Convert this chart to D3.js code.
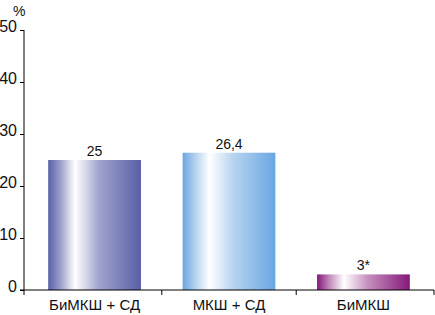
<!DOCTYPE html>
<html><head><meta charset="utf-8">
<script src="https://cdn.jsdelivr.net/npm/d3@7"></script>
<style>
body{margin:0;background:#fff;}
text{font-family:"Liberation Sans Narrow","Arial Narrow","Liberation Sans",Arial,sans-serif;fill:#111;}
</style></head>
<body><svg id="c" width="435" height="315"></svg>
<script>
const categories = ["БиМКШ + СД", "МКШ + СД", "БиМКШ"];
const values = [25, 26.4, 3];
const valueLabels = ["25", "26,4", "3*"];
const yTicks = [0, 10, 20, 30, 40, 50];
const colorsEdge = ["#5a5fa6", "#6aa6e2", "#85187a"];
const colorsMid = ["#a0a3cc", "#b6d3f0", "#c48fbd"];

const svg = d3.select("#c");
const x0 = 24, x1 = 434, yTop = 30, yBot = 290;
const x = d3.scaleBand().domain(categories).range([x0, x1]).paddingInner(0.31).paddingOuter(0.18);
const y = d3.scaleLinear().domain([0, 50]).range([yBot, yTop]);

const defs = svg.append("defs");
categories.forEach((c, i) => {
  const g = defs.append("linearGradient").attr("id", "g" + i).attr("x1", "0%").attr("x2", "100%");
  g.append("stop").attr("offset", "0%").attr("stop-color", colorsEdge[i]);
  g.append("stop").attr("offset", "14%").attr("stop-color", colorsMid[i]);
  g.append("stop").attr("offset", "29%").attr("stop-color", "#ffffff");
  g.append("stop").attr("offset", "55%").attr("stop-color", colorsMid[i]);
  g.append("stop").attr("offset", "100%").attr("stop-color", colorsEdge[i]);
});

// bars
svg.selectAll("rect.bar").data(values).enter().append("rect")
  .attr("class", "bar")
  .attr("x", (d, i) => x(categories[i]))
  .attr("width", x.bandwidth())
  .attr("y", d => y(d))
  .attr("height", d => y(0) - y(d))
  .attr("fill", (d, i) => `url(#g${i})`);

// value labels
svg.selectAll("text.val").data(values).enter().append("text")
  .attr("class", "val")
  .attr("x", (d, i) => x(categories[i]) + x.bandwidth() / 2)
  .attr("y", d => y(d) - 4)
  .attr("text-anchor", "middle")
  .attr("font-size", 14)
  .text((d, i) => valueLabels[i]);

// y axis
const yAxis = d3.axisLeft(y).tickValues(yTicks).tickSize(4).tickFormat(d3.format("d"));
const ya = svg.append("g").attr("transform", `translate(${x0},0)`).call(yAxis);
ya.select(".domain").attr("d", `M0,${yTop}V${yBot}`).attr("stroke", "#000");
ya.selectAll(".tick line").attr("stroke", "#000");
ya.selectAll(".tick text").attr("font-size", 16).attr("x", -7).attr("dy", "0.1em")
  .style("font-family", '"Liberation Sans Narrow","Arial Narrow","Liberation Sans",Arial,sans-serif').attr("fill", "#111");

// x axis
const xa = svg.append("g").attr("transform", `translate(0,${yBot})`);
xa.append("line").attr("x1", x0 - 4).attr("x2", x1).attr("y1", 0).attr("y2", 0).attr("stroke", "#000");
const bounds = [x0, ...categories.map(c => x(c) + x.bandwidth() + x.step() * x.paddingInner() / 2)];
bounds[bounds.length - 1] = x1;
xa.selectAll("line.t").data(bounds).enter().append("line")
  .attr("x1", d => d).attr("x2", d => d).attr("y1", 0).attr("y2", 5).attr("stroke", "#000");
xa.selectAll("text.cat").data(categories).enter().append("text")
  .attr("x", d => x(d) + x.bandwidth() / 2)
  .attr("y", 20)
  .attr("text-anchor", "middle")
  .attr("font-size", 15)
  .text(d => d);

// unit label
svg.append("text").attr("x", 13).attr("y", 16).attr("text-anchor", "start").attr("font-size", 14).text("%");
</script></body></html>
